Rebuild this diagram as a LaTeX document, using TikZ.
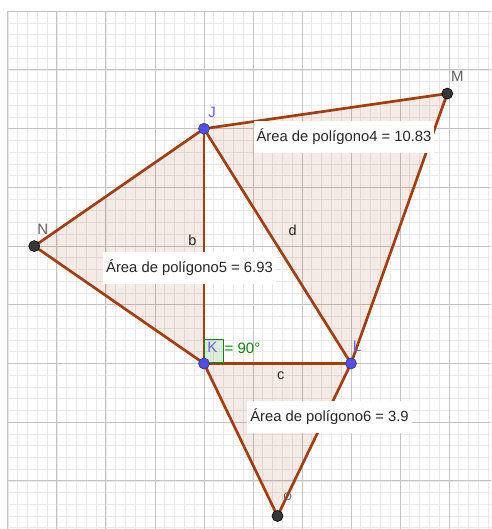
\documentclass[tikz,border=0pt]{standalone}
\usepackage{fontspec}
\setmainfont{Liberation Sans}
\definecolor{edge}{RGB}{165,62,15}
\definecolor{ptblue}{RGB}{77,77,255}
\definecolor{lblblue}{RGB}{100,100,255}
\definecolor{ptdark}{RGB}{55,55,55}
\definecolor{lblgray}{RGB}{95,95,95}
\definecolor{anggreen}{RGB}{20,130,20}
\definecolor{majgrid}{RGB}{195,195,195}
\definecolor{mingrid}{RGB}{234,234,234}
\begin{document}
\begin{tikzpicture}[x=49pt,y=58.7pt,
  minorline/.style={mingrid,line width=0.8pt},
  majorline/.style={majgrid,line width=1pt},
  polyfill/.style={fill=edge,fill opacity=0.1},
  seg/.style={edge,line width=2.7pt,line cap=round,line join=round},
  freept/.style={circle,fill=ptblue,draw=black!75,line width=0.6pt,inner sep=0pt,minimum size=11pt},
  deppt/.style={circle,fill=ptdark,draw=black,line width=0.6pt,inner sep=0pt,minimum size=11pt},
  arealabel/.style={fill=white,inner xsep=3pt,inner ysep=0pt,minimum height=32pt,text=black!85,font=\fontsize{14.8}{16}\selectfont},
  bluelabel/.style={font=\fontsize{15}{16}\selectfont,inner sep=0pt,text=lblblue},
  graylabel/.style={font=\fontsize{15}{16}\selectfont,inner sep=0pt,text=lblgray},
  seglabel/.style={font=\fontsize{14.5}{16}\selectfont,inner sep=0pt,text=black!85},
  anglemark/.style={anggreen,line width=0.8pt,fill=anggreen,fill opacity=0.15}]
\useasboundingbox (-204pt,-165.5pt) rectangle (287pt,363.5pt);
\fill[white] (-204pt,-165.5pt) rectangle (287pt,363.5pt);
% grid
\foreach \i in {-20,...,29} \draw[minorline] (\i/5,-2.82) -- (\i/5,6);
\foreach \j in {-14,...,30} \draw[minorline] (-4,\j/5) -- (5.86,\j/5);
\foreach \i in {-4,...,5} \draw[majorline] (\i,-2.82) -- (\i,6);
\foreach \j in {-2,...,6} \draw[majorline] (-4,\j) -- (5.86,\j);
% points
\coordinate (K) at (0,0);
\coordinate (J) at (0,4);
\coordinate (L) at (3,0);
\coordinate (M) at (4.964,4.598);
\coordinate (N) at (-3.464,2);
\coordinate (O) at (1.5,-2.598);
% polygon fills
\fill[polyfill] (N) -- (J) -- (K) -- cycle;
\fill[polyfill] (J) -- (L) -- (M) -- cycle;
\fill[polyfill] (K) -- (L) -- (O) -- cycle;
% edges
\draw[seg] (N) -- (J);
\draw[seg] (J) -- (K);
\draw[seg] (K) -- (N);
\draw[seg] (J) -- (M);
\draw[seg] (M) -- (L);
\draw[seg] (L) -- (J);
\draw[seg] (K) -- (L);
\draw[seg] (L) -- (O);
\draw[seg] (O) -- (K);
% right angle
\draw[anglemark] (K) rectangle (0.39,0.41);
% area labels
\node[arealabel] (a4) at (140pt,226.5pt) {Área de polígono4 = 10.83};
\node[arealabel] (a5) at (-14.5pt,95.5pt) {Área de polígono5 = 6.93};
\node[arealabel] (a6) at (125.5pt,-53.5pt) {Área de polígono6 = 3.9};
% segment labels
\node[seglabel] (lb) at (-11.7pt,123.5pt) {b};
\node[seglabel] (ld) at (88.7pt,133.5pt) {d};
\node[seglabel] (lc) at (76.7pt,-12.5pt) {c};
% point markers
\node[freept] (Jdot) at (J) {};
\node[freept] (Kdot) at (K) {};
\node[freept] (Ldot) at (L) {};
\node[deppt] (Mdot) at (M) {};
\node[deppt] (Ndot) at (N) {};
\node[deppt] (Odot) at (O) {};
% point labels
\node[bluelabel] (lJ) at (8pt,251.5pt) {J};
\node[bluelabel] (lK) at (8.5pt,16.5pt) {K};
\node[bluelabel] (lL) at (153pt,17.5pt) {L};
\node[graylabel] (lM) at (253.3pt,286.8pt) {M};
\node[graylabel] (lN) at (-161.3pt,134.5pt) {N};
\node[graylabel,font=\fontsize{11}{12}\selectfont] (lO) at (83.7pt,-133.2pt) {O};
\node[font=\fontsize{15}{16}\selectfont,inner sep=0pt,text=anggreen] (ang) at (38.5pt,15.5pt) {= 90°};
\end{tikzpicture}
\end{document}
